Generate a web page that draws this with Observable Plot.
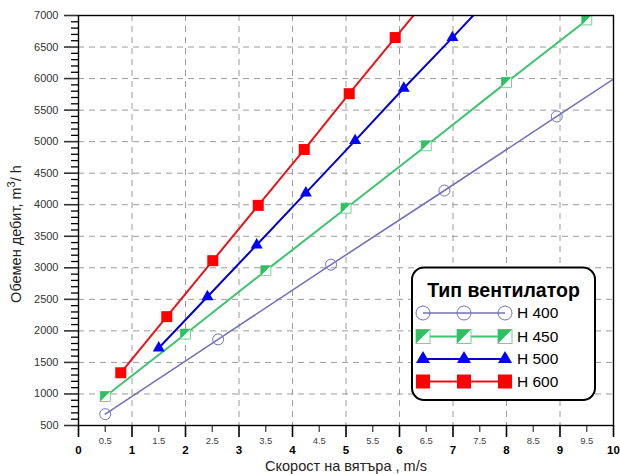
<!DOCTYPE html>
<html><head><meta charset="utf-8">
<script src="https://cdn.jsdelivr.net/npm/d3@7"></script>
<script src="https://cdn.jsdelivr.net/npm/@observablehq/plot@0.6"></script>
<style>
body{margin:0;background:#fff;font-family:"Liberation Sans",Arial,sans-serif}
#chart{width:620px;height:474px}
</style>
</head><body><div id="chart"></div>
<script>
// ---- data ----
const fanTypes = ["H 400", "H 450", "H 500", "H 600"];
const fanColors = ["#7272b8", "#3cc46e", "#0000d0", "#e8141c"];
const speedH400 = [0.5, 2.61, 4.72, 6.84, 8.94, 11.05];
const flowH400  = [680, 1865, 3050, 4225, 5400, 6580];
const speedH450 = [0.5, 2.0, 3.5, 5.0, 6.5, 8.0, 9.5];
const flowH450  = [960, 1950, 2955, 3945, 4935, 5940, 6930];
const speedH500 = [1.5, 2.41, 3.33, 4.25, 5.17, 6.08, 6.99, 7.9];
const flowH500  = [1728, 2542, 3362, 4187, 5017, 5847, 6650, 7470];
const speedH600 = [0.79, 1.65, 2.51, 3.36, 4.22, 5.06, 5.92, 6.78];
const flowH600  = [1336, 2225, 3113, 3990, 4875, 5760, 6650, 7530];

const xMajorTicks = [0, 1, 2, 3, 4, 5, 6, 7, 8, 9, 10];
const xMinorTicks = [0.5, 1.5, 2.5, 3.5, 4.5, 5.5, 6.5, 7.5, 8.5, 9.5];
const yMajorTicks = [500, 1000, 1500, 2000, 2500, 3000, 3500, 4000, 4500, 5000, 5500, 6000, 6500, 7000];
const yMinorTicks = d3.range(500, 7001, 100).filter(v => v % 500 !== 0);
const gridXTicks = [1, 2, 3, 4, 5, 6, 7, 8, 9];
const gridYTicks = [1000, 1500, 2000, 2500, 3000, 3500, 4000, 4500, 5000, 5500, 6000, 6500];

const xTitle = "Скорост на вятъра , m/s";
const yTitleParts = ["Обемен дебит, m", "3", "/ h"];
const legendTitle = "Тип вентилатор";

const toRows = (xs, ys, name) => xs.map((x, i) => ({speed: x, flow: ys[i], fan: name}));
const rows400 = toRows(speedH400, flowH400, fanTypes[0]);
const rows450 = toRows(speedH450, flowH450, fanTypes[1]);
const rows500 = toRows(speedH500, flowH500, fanTypes[2]);
const rows600 = toRows(speedH600, flowH600, fanTypes[3]);

// custom symbol: filled upper-left half of a square
const halfSquare = {
  draw(ctx, size) {
    const h = Math.sqrt(size) / 2;
    ctx.moveTo(-h, -h); ctx.lineTo(h, -h); ctx.lineTo(-h, h); ctx.closePath();
  }
};
const sq = side => side / Math.sqrt(Math.PI);              // r for a square of given side
const tri = side => Math.sqrt(Math.sqrt(3) / 4 * side * side / Math.PI);

const gridStyle = {stroke: "#9c9c9c", strokeOpacity: 1, strokeDasharray: "6,5", strokeWidth: 1};

const chart = Plot.plot({
  width: 620, height: 474,
  marginLeft: 78, marginRight: 7, marginTop: 15, marginBottom: 49,
  x: {domain: [0, 10], axis: null},
  y: {domain: [500, 7000], axis: null},
  style: {fontFamily: "'Liberation Sans', Arial, sans-serif", background: "white", overflow: "visible"},
  marks: [
    Plot.gridX(gridXTicks, gridStyle),
    Plot.gridY(gridYTicks, gridStyle),
    Plot.line(rows400, {x: "speed", y: "flow", stroke: fanColors[0], strokeWidth: 1.6, clip: true}),
    Plot.line(rows450, {x: "speed", y: "flow", stroke: fanColors[1], strokeWidth: 2, clip: true}),
    Plot.line(rows500, {x: "speed", y: "flow", stroke: fanColors[2], strokeWidth: 2, clip: true}),
    Plot.line(rows600, {x: "speed", y: "flow", stroke: fanColors[3], strokeWidth: 2, clip: true}),
    Plot.dot(rows400, {x: "speed", y: "flow", r: 5.5, symbol: "circle", fill: "none", stroke: fanColors[0], strokeWidth: 1, clip: true}),
    Plot.dot(rows450, {x: "speed", y: "flow", r: sq(10), symbol: "square", fill: "white", stroke: "#6fd494", strokeWidth: 1, clip: true}),
    Plot.dot(rows450, {x: "speed", y: "flow", r: sq(10), symbol: halfSquare, fill: "#2fc062", stroke: "none", clip: true}),
    Plot.dot(rows500, {x: "speed", y: "flow", r: tri(12), symbol: "triangle", fill: "#0000ff", stroke: "none", clip: true}),
    Plot.dot(rows600, {x: "speed", y: "flow", r: sq(11), symbol: "square", fill: "#ff0000", stroke: "none", clip: true}),
    Plot.axisX(xMinorTicks, {label: null, tickSize: 7, tickPadding: 5, fontSize: 9.5, color: "#444", strokeWidth: 1.3, tickFormat: d => d.toFixed(1)}),
    Plot.axisX(xMajorTicks, {label: null, tickSize: 12, tickPadding: 8, fontSize: 11.5, fontWeight: "bold", color: "#000", strokeWidth: 1.6, tickFormat: d => String(d)}),
    Plot.axisY(yMinorTicks, {label: null, tickSize: 7, tickFormat: () => "", color: "#000", strokeWidth: 1.3}),
    Plot.axisY(yMajorTicks, {label: null, tickSize: 14, tickPadding: 6, fontSize: 11, color: "#333", strokeWidth: 1.6, tickFormat: d => String(d)}),
    Plot.frame({stroke: "#000", strokeWidth: 1.4}),
    Plot.text([xTitle], {frameAnchor: "bottom", dy: 41, fontSize: 14.5, fill: "#222", lineAnchor: "middle"})
  ]
});

document.getElementById("chart").appendChild(chart);

// ---- y-axis title with superscript ----
const svg = d3.select(chart);
const yt = svg.append("text")
  .attr("transform", "translate(21,234) rotate(-90)")
  .attr("text-anchor", "middle")
  .attr("font-size", 14.5)
  .attr("fill", "#222");
yt.append("tspan").text(yTitleParts[0]);
yt.append("tspan").attr("dy", -6).attr("font-size", 11).text(yTitleParts[1]);
yt.append("tspan").attr("dy", 6).text(yTitleParts[2]);

// ---- legend ----
const lg = svg.append("g").attr("font-family", "'Liberation Sans', Arial, sans-serif");
lg.append("rect").attr("x", 412).attr("y", 267.5).attr("width", 183).attr("height", 132.5)
  .attr("rx", 12).attr("fill", "white").attr("stroke", "#000").attr("stroke-width", 2);
lg.append("text").attr("x", 503.5).attr("y", 297).attr("text-anchor", "middle")
  .attr("font-size", 19.5).attr("font-weight", "bold").attr("fill", "#000").text(legendTitle);
const rowY = [313, 336.5, 359, 381.5];
const mx = [423, 464, 505];
fanTypes.forEach((name, k) => {
  const y = rowY[k];
  lg.append("line").attr("x1", mx[0]).attr("x2", mx[2]).attr("y1", y).attr("y2", y)
    .attr("stroke", fanColors[k]).attr("stroke-width", k === 0 ? 1.6 : 2);
  mx.forEach(x => {
    const g = lg.append("g").attr("transform", `translate(${x},${y})`);
    if (k === 0) {
      g.append("circle").attr("r", 7).attr("fill", "none").attr("stroke", fanColors[0]).attr("stroke-width", 1);
    } else if (k === 1) {
      g.append("rect").attr("x", -7).attr("y", -7).attr("width", 14).attr("height", 14)
        .attr("fill", "white").attr("stroke", "#6fd494").attr("stroke-width", 1);
      g.append("path").attr("d", d3.symbol(halfSquare, 196)()).attr("fill", "#2fc062");
    } else if (k === 2) {
      g.append("path").attr("d", d3.symbol(d3.symbolTriangle, Math.sqrt(3) / 4 * 14 * 14)()).attr("fill", "#0000ff");
    } else {
      g.append("path").attr("d", d3.symbol(d3.symbolSquare, 14 * 14)()).attr("fill", "#ff0000");
    }
  });
  lg.append("text").attr("x", 517).attr("y", y).attr("dy", "0.35em").attr("text-anchor", "start")
    .attr("font-size", 15.5).attr("fill", "#000").text(name);
});
</script>
</body></html>
